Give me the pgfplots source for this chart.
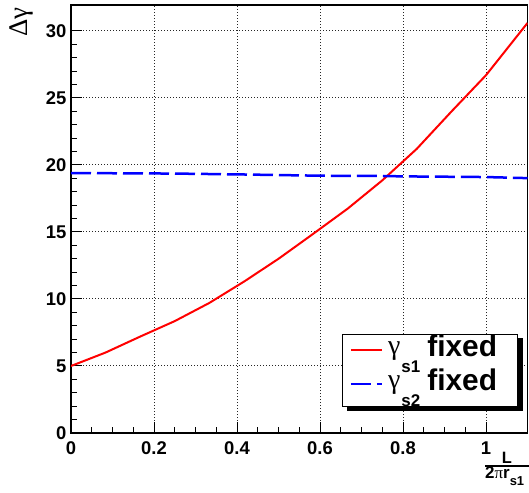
\documentclass[border=0pt]{standalone}
\usepackage{fontspec}
\setmainfont{Liberation Sans}
\newfontfamily\grk{Liberation Serif}
\usepackage{pgfplots}
\pgfplotsset{compat=1.18}
\begin{document}
\begin{tikzpicture}
\begin{axis}[
  at={(0,0)}, anchor=south west,
  scale only axis, width=456.5bp, height=428bp,
  xmin=0, xmax=1.1, ymin=0, ymax=31.94,
  xtick={0,0.2,0.4,0.6,0.8,1}, ytick={0,5,10,15,20,25,30},
  minor x tick num=3, minor y tick num=4,
  tick pos=left, tick align=inside,
  major tick length=11bp, minor tick length=6bp,
  every tick/.style={black, line width=1bp},
  axis line style={line width=1.5bp},
  grid=major,
  major grid style={black!85, line width=1bp, dash pattern=on 1bp off 2bp},
  /pgf/number format/assume math mode=true,
  ticklabel style={font=\bfseries\fontsize{18.5}{18.5}\selectfont},
  xticklabel style={yshift=-5bp},
  yticklabel style={xshift=-1bp},
  legend style={name=leg, at={(rel axis cs:0.594,0.231)}, anchor=north west,
    draw=black, line width=1bp, fill=white,
    inner xsep=7bp, inner ysep=2bp, row sep=0pt,
    nodes={inner sep=0pt, text height=20bp, text depth=14bp},
    column sep=5bp},
  legend cell align=left,
  legend image code/.code={\draw[#1] (0bp,3.5bp) -- (31bp,3.5bp);},
]
\addplot[red, line width=2bp] coordinates {
(0,5.0) (0.083,6.0) (0.167,7.2) (0.25,8.35) (0.333,9.7) (0.417,11.3)
(0.5,13.0) (0.583,14.85) (0.667,16.75) (0.75,18.85) (0.833,21.2)
(0.917,24.0) (1.0,26.7) (1.1,30.6)};
\addlegendentry{\raisebox{2bp}{\grk\fontsize{28}{28}\selectfont γ}\hspace{1bp}\raisebox{-16bp}{\bfseries\fontsize{17}{17}\selectfont s1}\hspace{7bp}{\bfseries\fontsize{30}{30}\selectfont fixed}\hspace{13bp}\null}
\addplot[blue, line width=2.5bp, dash pattern=on 20bp off 6bp] coordinates {
(0,19.4) (0.25,19.36) (0.4,19.3) (0.6,19.2) (0.75,19.18) (0.8,19.15)
(1.0,19.1) (1.1,19.02)};
\addlegendentry{\raisebox{2bp}{\grk\fontsize{28}{28}\selectfont γ}\hspace{1bp}\raisebox{-16bp}{\bfseries\fontsize{17}{17}\selectfont s2}\hspace{7bp}{\bfseries\fontsize{30}{30}\selectfont fixed}\hspace{13bp}\null}
\end{axis}
\fill[black] ([yshift=-4bp]leg.north east) rectangle ([xshift=5bp,yshift=-4bp]leg.south east);
\fill[black] ([xshift=5bp]leg.south west) rectangle ([xshift=5bp,yshift=-4bp]leg.south east);
\node[rotate=90, anchor=east, font=\grk\fontsize{27}{27}\selectfont, inner sep=0] at (-50bp,426bp) {Δγ};
\node[anchor=base, font=\bfseries\fontsize{16.5}{16.5}\selectfont, inner sep=0] at (436bp,-30bp) {L};
\draw[line width=1.5bp] (414bp,-33bp) -- (458bp,-33bp);
\node[anchor=base west, font=\bfseries\fontsize{17}{17}\selectfont, inner sep=0] at (414bp,-45bp) {2{\grk\mdseries π}r\raisebox{-7bp}{\fontsize{13}{13}\selectfont s1}};
\pgfresetboundingbox
\path[use as bounding box] (-71bp,-60bp) rectangle (458bp,433bp);
\end{tikzpicture}
\end{document}
